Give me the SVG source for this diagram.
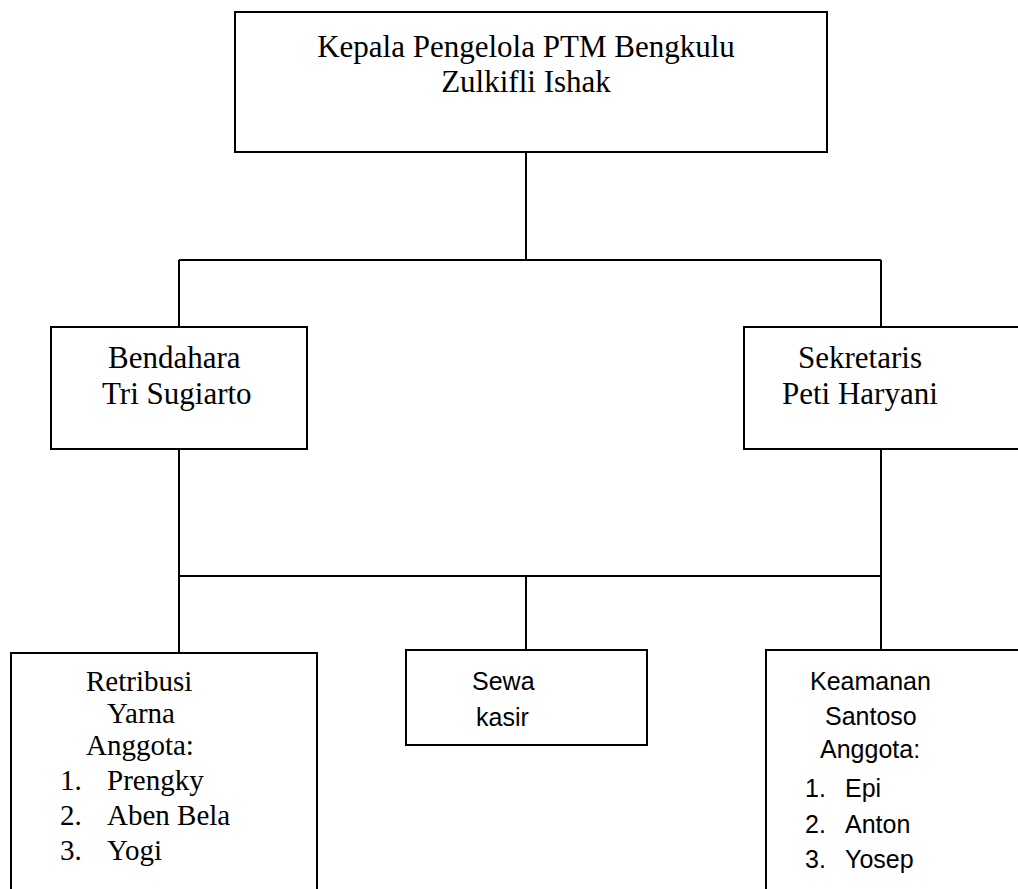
<svg xmlns="http://www.w3.org/2000/svg" width="1018" height="889" viewBox="0 0 1018 889">
<style>
.box{fill:#fff;stroke:#000;stroke-width:2}
.ln{fill:none;stroke:#000;stroke-width:2}
.t{font-family:"Liberation Serif","Times New Roman",serif;font-size:31px;fill:#000}
.tb{font-family:"Liberation Serif","Times New Roman",serif;font-size:29px;fill:#000}
.s{font-family:"Liberation Sans",Arial,sans-serif;font-size:25px;fill:#000}
</style>
<rect width="1018" height="889" fill="#fff"/>
<g id="connectors">
<path class="ln" d="M526 152V260M179 260H881M179 260V327M881 260V327"/>
<path class="ln" d="M179 449V653M881 449V650M179 576H881M526 576V650"/>
</g>
<g id="kepala">
<rect class="box" x="235" y="12" width="592" height="140"/>
<text class="t" x="526" y="57" text-anchor="middle">Kepala Pengelola PTM Bengkulu</text>
<text class="t" x="526" y="92" text-anchor="middle">Zulkifli Ishak</text>
</g>
<g id="bendahara">
<rect class="box" x="51" y="327" width="256" height="122"/>
<text class="t" x="108" y="368">Bendahara</text>
<text class="t" x="102" y="404">Tri Sugiarto</text>
</g>
<g id="sekretaris">
<rect class="box" x="744" y="327" width="290" height="122"/>
<text class="t" x="798" y="368">Sekretaris</text>
<text class="t" x="782" y="404">Peti Haryani</text>
</g>
<g id="retribusi">
<rect class="box" x="11" y="653" width="306" height="250"/>
<text class="tb" x="86" y="691">Retribusi</text>
<text class="tb" x="107" y="723">Yarna</text>
<text class="tb" x="86" y="755">Anggota:</text>
<text class="tb" x="60" y="790">1.</text><text class="tb" x="107" y="790">Prengky</text>
<text class="tb" x="60" y="825">2.</text><text class="tb" x="107" y="825">Aben Bela</text>
<text class="tb" x="60" y="860">3.</text><text class="tb" x="107" y="860">Yogi</text>
</g>
<g id="sewa">
<rect class="box" x="406" y="650" width="241" height="95"/>
<text class="s" x="472" y="690">Sewa</text>
<text class="s" x="476" y="726">kasir</text>
</g>
<g id="keamanan">
<rect class="box" x="766" y="650" width="270" height="260"/>
<text class="s" x="810" y="690">Keamanan</text>
<text class="s" x="825" y="725">Santoso</text>
<text class="s" x="820" y="758">Anggota:</text>
<text class="s" x="805" y="797">1.</text><text class="s" x="845" y="797">Epi</text>
<text class="s" x="805" y="833">2.</text><text class="s" x="845" y="833">Anton</text>
<text class="s" x="805" y="868">3.</text><text class="s" x="845" y="868">Yosep</text>
</g>
</svg>
